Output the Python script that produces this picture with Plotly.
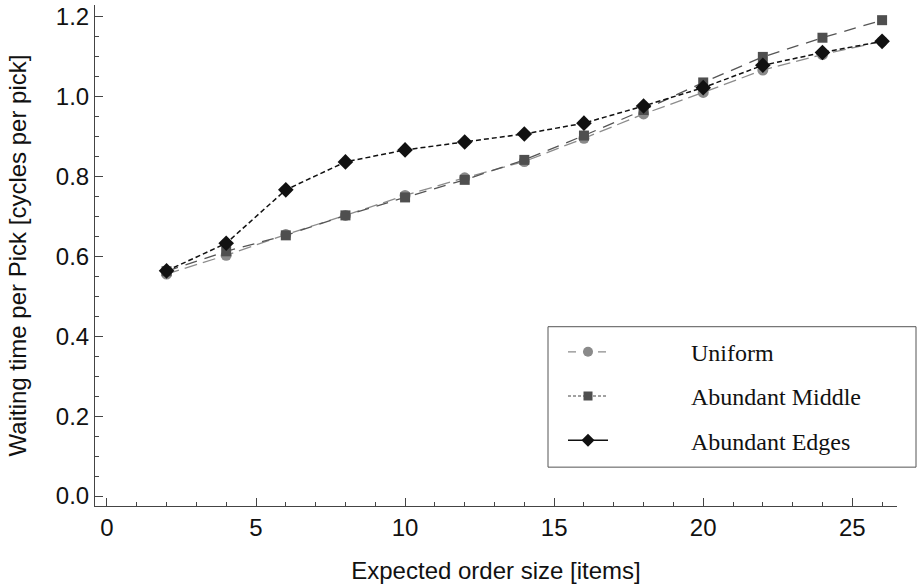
import plotly.graph_objects as go

# Expected order size (items) and waiting time per pick (cycles per pick)
order_size = [2, 4, 6, 8, 10, 12, 14, 16, 18, 20, 22, 24, 26]
uniform = [0.556, 0.603, 0.655, 0.703, 0.753, 0.797, 0.838, 0.896, 0.957, 1.011, 1.067, 1.106, 1.139]
abundant_middle = [0.563, 0.613, 0.653, 0.703, 0.748, 0.792, 0.842, 0.903, 0.967, 1.036, 1.100, 1.148, 1.192]
abundant_edges = [0.564, 0.633, 0.767, 0.837, 0.867, 0.887, 0.907, 0.934, 0.977, 1.023, 1.079, 1.111, 1.139]

series_names = ["Uniform", "Abundant Middle", "Abundant Edges"]
x_ticks = [0, 5, 10, 15, 20, 25]
y_ticks = [0.0, 0.2, 0.4, 0.6, 0.8, 1.0, 1.2]

W, H = 917, 587
L, R, T, B = 95, 20, 3, 81

fig = go.Figure()

# Data curves
fig.add_trace(go.Scatter(
    x=order_size, y=uniform, mode="lines+markers", showlegend=False,
    line=dict(color="#8c8c8c", width=1.3, dash="13px,6px"),
    marker=dict(symbol="circle", size=11, color="#8a8a8a"),
))
fig.add_trace(go.Scatter(
    x=order_size, y=abundant_middle, mode="lines+markers", showlegend=False,
    line=dict(color="#555555", width=1.3, dash="12px,8px"),
    marker=dict(symbol="square", size=10, color="#4f4f4f"),
))
fig.add_trace(go.Scatter(
    x=order_size, y=abundant_edges, mode="lines+markers", showlegend=False,
    line=dict(color="#111111", width=1.5, dash="5px,3px"),
    marker=dict(symbol="diamond", size=12, color="#111111"),
))

# Legend entries (symbol, then a wide gap before the label)
legend_styles = [
    (dict(color="#8c8c8c", width=1.3, dash="8px,7px"), dict(symbol="circle", size=10, color="#8a8a8a")),
    (dict(color="#444444", width=1.0, dash="3px,2px"), dict(symbol="square", size=9, color="#4f4f4f")),
    (dict(color="#111111", width=1.5), dict(symbol="diamond", size=10, color="#111111")),
]
gap = "\u00a0" * 13
for i, (name, (ln, mk)) in enumerate(zip(series_names, legend_styles)):
    fig.add_trace(go.Scatter(
        x=[None], y=[None], mode="lines+markers", name=gap + name,
        line=ln, marker=mk, legendgroup=f"g{i}",
    ))

pw = W - L - R
ph = H - T - B

def px_x(p):
    return (p - L) / pw

def px_y(p):
    return (H - B - p) / ph

# Legend frame
fig.add_shape(type="rect", xref="paper", yref="paper",
              x0=px_x(548), x1=px_x(916), y0=px_y(467), y1=px_y(326),
              line=dict(color="#555555", width=1), fillcolor="white", layer="above")

tick_font = dict(family="Liberation Sans, Arial, sans-serif", size=24, color="#111111")
title_font = dict(family="Liberation Sans, Arial, sans-serif", size=24, color="#111111")

fig.update_layout(
    width=W, height=H,
    margin=dict(l=L, r=R, t=T, b=B, pad=0),
    plot_bgcolor="white", paper_bgcolor="white",
    font=tick_font,
    legend=dict(
        x=px_x(563), y=px_y(329), xanchor="left", yanchor="top",
        bgcolor="rgba(0,0,0,0)", borderwidth=0,
        font=dict(family="Liberation Serif, Times New Roman, serif", size=24, color="#111111"),
        itemwidth=40, tracegroupgap=10,
    ),
    xaxis=dict(
        range=[-0.4, 26.5], tickvals=x_ticks, ticks="inside", ticklen=8, tickwidth=1,
        tickcolor="#444444", showline=True, linecolor="#444444", linewidth=1,
        showgrid=False, zeroline=False, tickfont=tick_font,
        minor=dict(dtick=1, ticks="inside", ticklen=4, tickcolor="#444444", showgrid=False),
        title=dict(text="Expected order size [items]", font=title_font, standoff=22),
    ),
    yaxis=dict(
        range=[-0.025, 1.23], tickvals=y_ticks, tickformat=".1f", ticks="inside", ticklen=8,
        tickwidth=1, tickcolor="#444444", showline=True, linecolor="#444444", linewidth=1,
        showgrid=False, zeroline=False, tickfont=tick_font,
        minor=dict(dtick=0.05, ticks="inside", ticklen=4, tickcolor="#444444", showgrid=False),
        title=dict(text="Waiting time per Pick [cycles per pick]", font=title_font, standoff=22),
    ),
)

fig.write_html("out.html")
